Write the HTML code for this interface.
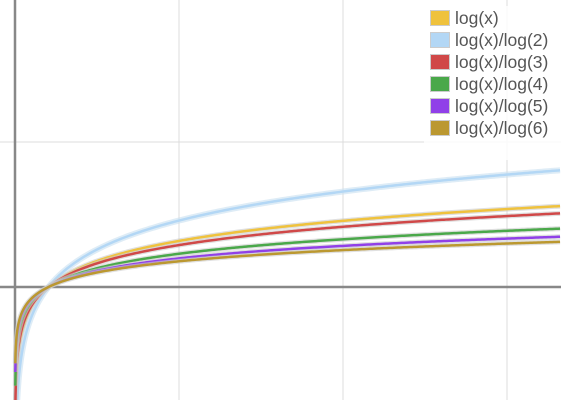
<!DOCTYPE html>
<html><head><meta charset="utf-8"><style>
html,body{margin:0;padding:0;background:#fff;width:561px;height:400px;overflow:hidden;}
svg{display:block;font-family:"Liberation Sans",sans-serif;}
</style></head><body>
<svg id="chart" width="561" height="400" viewBox="0 0 561 400" xmlns="http://www.w3.org/2000/svg" overflow="hidden">
<g id="grid"></g>
<g id="axes"></g>
<g id="series"></g>
<g id="legend"></g>
</svg>
<script>
const seriesLabels = ["log(x)","log(x)/log(2)","log(x)/log(3)","log(x)/log(4)","log(x)/log(5)","log(x)/log(6)"];
const seriesBases = [Math.E, 2, 3, 4, 5, 6];
const seriesColors = ["#efc23d","#b3d7f5","#d04848","#4aa84a","#9040e8","#bb9830"];
const xGridTicks = [5, 10, 15];
const yGridTicks = [5];

const NS = "http://www.w3.org/2000/svg";
const X0 = 15, Y0 = 287, SX = 33.5, SY = 29;
const xs = v => X0 + v * SX;
const ys = v => Y0 - v * SY;
function mk(tag, attrs, parent){const e=document.createElementNS(NS,tag);for(const k in attrs)e.setAttribute(k,attrs[k]);parent.appendChild(e);return e;}

const grid = document.getElementById('grid');
xGridTicks.forEach(t=>{
  const l = mk('line',{x1:X0+t*32.8,x2:X0+t*32.8,y1:0,y2:400,stroke:'#dcdcdc','stroke-width':1},grid);
  
  
});
yGridTicks.forEach(t=>{
  const l = mk('line',{x1:0,x2:561,y1:ys(t),y2:ys(t),stroke:'#dcdcdc','stroke-width':1},grid);
  
  
});
const axes = document.getElementById('axes');
const xa = mk('line',{x1:0,x2:561,y1:Y0,y2:Y0,stroke:'#888','stroke-width':2.5},axes);


const ya = mk('line',{x1:X0,x2:X0,y1:0,y2:400,stroke:'#888','stroke-width':2.5},axes);



const series = document.getElementById('series');
seriesBases.forEach((b,i)=>{
  let d='';
  const lb=Math.log(b);
  for(let px=X0+0.3; px<=562; px+=(px<60?0.25:2)){
    const v=(px-X0)/SX;
    const y=ys(Math.log(v)/lb);
    const yy=Math.min(Math.max(y,-50),420);
    d+=(d?'L':'M')+px.toFixed(2)+','+yy.toFixed(2);
  }
  const halo = mk('path',{d:d,fill:'none',stroke:i===1?'#c8dff0':'#ccc','stroke-width':i===1?6:5,'stroke-opacity':0.6},series);
  
  
  const p = mk('path',{d:d,fill:'none',stroke:seriesColors[i],'stroke-width':2.5},series);
  
  
});

const legend = document.getElementById('legend');
mk('rect',{x:424,y:6,width:137,height:154,fill:'#fff','fill-opacity':0.85},legend);
seriesLabels.forEach((lab,i)=>{
  const cy=18+i*22;
  const sw = mk('rect',{x:430.5,y:cy-7.5,width:19,height:15,fill:seriesColors[i],stroke:'#ccc','stroke-width':1},legend);
  
  
  const t = mk('text',{x:455,y:cy+6,'font-size':17.5,fill:'#555'},legend);
  t.textContent=lab;
  
  
});
</script>
</body></html>
